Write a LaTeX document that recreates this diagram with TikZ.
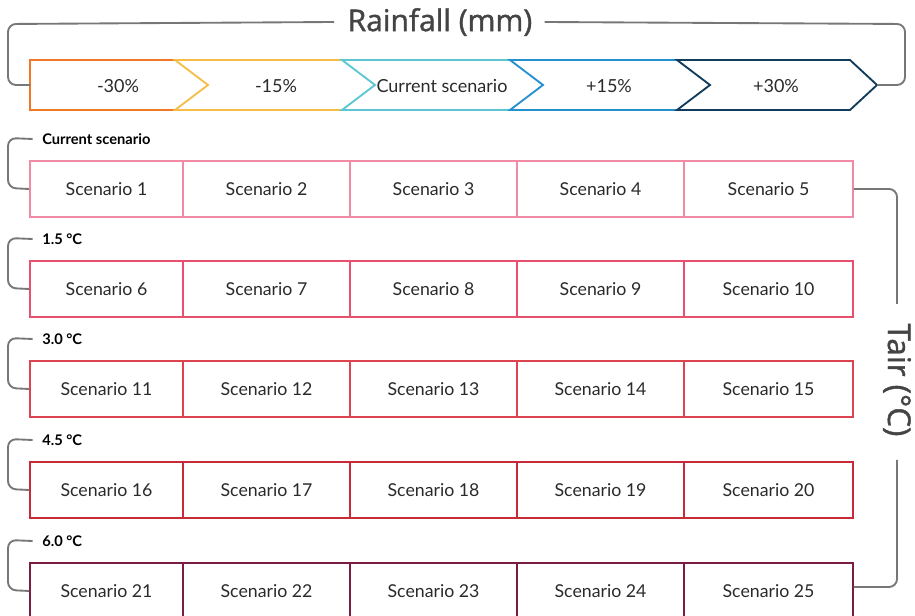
\documentclass[tikz,border=0pt]{standalone}
\usepackage{fontspec}
\setmainfont{Lato}
\newfontfamily\titlefont[FakeBold=1.3]{Open Sans}
\definecolor{cOrange}{HTML}{F07828}
\definecolor{cYellow}{HTML}{F4BE48}
\definecolor{cCyan}{HTML}{5CC6D2}
\definecolor{cBlue}{HTML}{2590D0}
\definecolor{cNavy}{HTML}{123C5C}
\definecolor{rowA}{HTML}{F28AA5}
\definecolor{rowB}{HTML}{E9506F}
\definecolor{rowC}{HTML}{DE4350}
\definecolor{rowD}{HTML}{C92A38}
\definecolor{rowE}{HTML}{7B1C42}
\definecolor{lineGray}{HTML}{777777}
\definecolor{txtGray}{HTML}{2A2A2A}
\definecolor{titleGray}{HTML}{444444}
\begin{document}
\begin{tikzpicture}[x=0.75pt,y=-0.75pt,
  bracket/.style={draw=lineGray,line width=1.4pt,rounded corners=6pt},
  chev/.style={line width=1.4pt,line join=miter},
  cell/.style={draw,line width=1.3pt,minimum height=42pt,inner sep=0pt,
    font=\fontsize{13.3}{15}\selectfont,text=txtGray},
  arrlab/.style={font=\fontsize{13.5}{15}\selectfont,text=txtGray,inner sep=0pt},
  rowlab/.style={font=\bfseries\fontsize{11}{13}\selectfont,text=black,anchor=west,inner sep=0pt},
  axistitle/.style={font=\titlefont\fontsize{22.5}{26}\selectfont,text=titleGray,inner sep=0pt}
]
\useasboundingbox (0,0) rectangle (915,616);

% ---- Rainfall axis ----
\node[axistitle] (rain) at (440,22) {Rainfall (mm)};
\draw[chev,cOrange] (175,60) -- (30,60) -- (30,110) -- (175,110);
\draw[chev,cYellow] (342,60) -- (175,60) -- (208,85) -- (175,110) -- (342,110);
\draw[chev,cCyan] (510,60) -- (342,60) -- (375,85) -- (342,110) -- (510,110);
\draw[chev,cBlue] (677,60) -- (510,60) -- (543,85) -- (510,110) -- (677,110);
\draw[chev,cNavy] (677,60) -- (850,60) -- (877,85) -- (850,110) -- (677,110) -- (710,85) -- cycle;
\coordinate (chevL) at (30,85);
\coordinate (chevR) at (877,85);
\node[arrlab] (r1) at (118,86) {-30\%};
\node[arrlab] (r2) at (276,86) {-15\%};
\node[arrlab] (r3) at (442,86) {Current scenario};
\node[arrlab] (r4) at (609,86) {+15\%};
\node[arrlab] (r5) at (776,86) {+30\%};
\draw[bracket] ([xshift=-10pt]rain.west) -- (8,24) -- (8,85) -- (chevL);
\draw[bracket] ([xshift=9pt]rain.east) -- (905,24) -- (905,85) -- (chevR);

% ---- Scenario grid ----
\foreach \r/\yc/\col/\lab in {0/189/rowA/Current scenario,1/289/rowB/1.5 °C,2/389/rowC/3.0 °C,3/490/rowD/4.5 °C,4/591/rowE/6.0 °C}{
  \foreach \c/\xc/\w in {1/106.5/114.75pt,2/266.5/125.25pt,3/433.5/125.25pt,4/600.5/125.25pt,5/768.5/126.75pt}{
    \pgfmathtruncatemacro{\n}{\r*5+\c}
    \node[cell,draw=\col,minimum width=\w] (s\n) at (\xc,\yc) {Scenario \n};
  }
  \pgfmathtruncatemacro{\first}{\r*5+1}
  \node[rowlab] (lab\r) at (42,\yc-50) {\lab};
  \draw[bracket] ([xshift=-7pt]lab\r.west) -- (8,\yc-51) -- (8,\yc-1) -- (s\first.west);
}

% ---- Tair axis ----
\node[axistitle,font=\titlefont\fontsize{23.5}{27}\selectfont,rotate=-90] (tair) at (897,380) {Tair (°C)};
\draw[bracket] (s5.east) -- (897,189) -- (897,304);
\draw[bracket] (897,460) -- (897,587) -- (s25.east |- 0,587);
\end{tikzpicture}
\end{document}
